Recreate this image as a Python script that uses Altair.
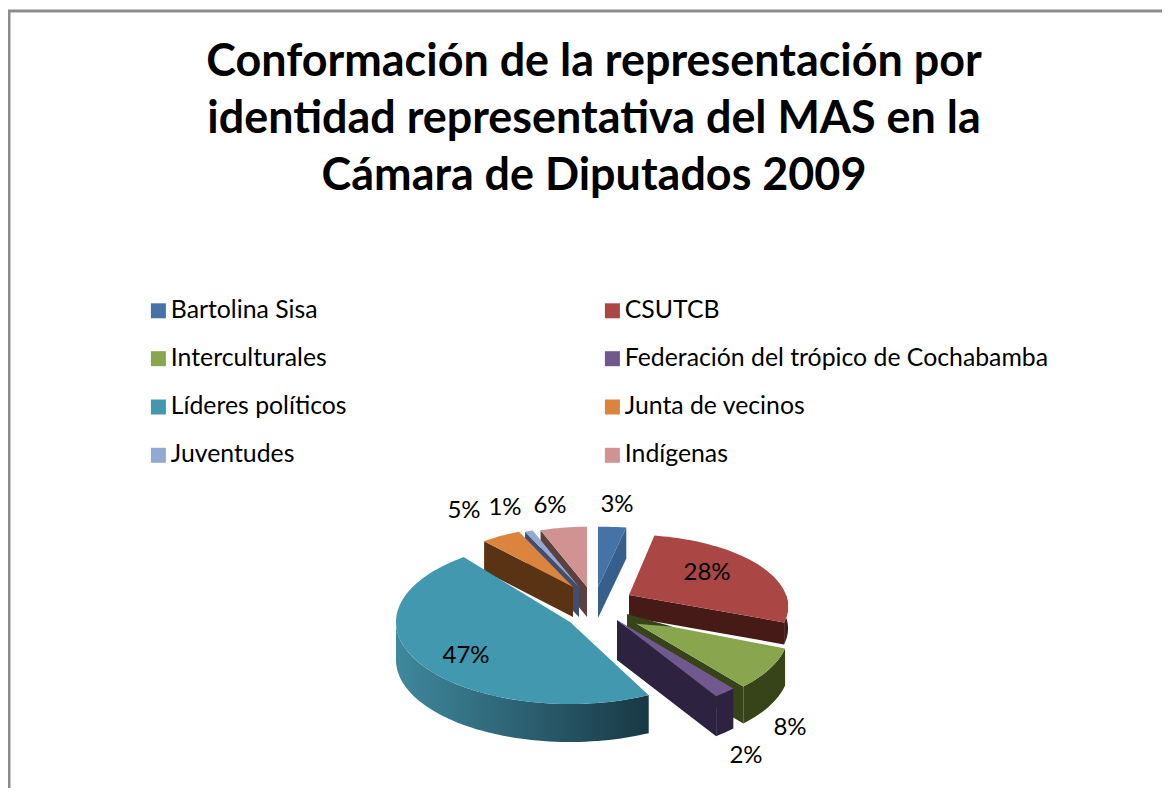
import math
import altair as alt

title_lines = ["Conformación de la representación por",
               "identidad representativa del MAS en la",
               "Cámara de Diputados 2009"]
categories = ["Bartolina Sisa", "CSUTCB", "Interculturales",
              "Federación del trópico de Cochabamba", "Líderes políticos",
              "Junta de vecinos", "Juventudes", "Indígenas"]
shares = [3, 28, 8, 2, 47, 5, 1, 6]
labels = ["3%", "28%", "8%", "2%", "47%", "5%", "1%", "6%"]
top_colors = ["#4572a7", "#aa4643", "#89a54e", "#71588f",
              "#4198af", "#db843d", "#93a9cf", "#d19392"]
wall_colors = ["#375f8c", "#451a17", "#374419", "#2d2340",
               "#2f6d80", "#5a3214", "#3f4e6e", "#5c3f3f"]

# Exploded-pie layout: apex of each slice, in-plane radii, perspective, wall height
CX, CY = 8, 8
apex = [(598, 587), (629, 595), (627, 618), (617, 620),
        (570, 622), (573, 587), (579, 587), (587, 587)]
rx = [175, 157, 160, 160, 174, 145, 145, 145]
ry = [70, 70, 78, 78, 82, 70, 70, 70]
persp = [0.16, 0.16, 0.16, 0.16, 0.0, 0.16, 0.16, 0.16]
turn = [0, 0, 0, 0, 5.5, 0, 0, 0]
depth = [31, 22, 37, 40, 38, 30, 30, 30]
label_off = [(19, -82), (78, -22), (163, 110), (129, 136),
             (-104, 34), (-109, -76), (-74, -79), (-37, -81)]
draw_order = [7, 6, 5, 0, 1, 4, 2, 3]

starts, acc = [], 0
for s in shares:
    starts.append(acc * 3.6)
    acc += s
ends = [a + s * 3.6 for a, s in zip(starts, shares)]


def pt(i, deg):
    t = math.radians(deg + turn[i])
    X, Y = math.sin(t), -math.cos(t)
    k = 1 / (1 - persp[i] * Y)
    return [apex[i][0] + rx[i] * X * k - CX, apex[i][1] + ry[i] * Y * k - CY]


def arc(i, a, b):
    n = max(2, int(abs(b - a) / 2) + 1)
    return [pt(i, a + (b - a) * j / n) for j in range(n + 1)]


def tip(i):
    return [apex[i][0] - CX, apex[i][1] - CY]


def feature(ring, name):
    ring = ring + [ring[0]]
    return {"type": "Feature", "properties": {"name": name},
            "geometry": {"type": "Polygon", "coordinates": [ring]}}


def wall(i, top):
    low = [[x, y + depth[i]] for x, y in top]
    return feature(top + low[::-1], categories[i])


def walls_for(i):
    a, b = starts[i], ends[i]
    if i == 0:
        return [[tip(i), pt(i, b)]]
    if i == 1:
        return [[tip(i), pt(i, b)], arc(i, 90, b)]
    if i in (2, 3):
        return [arc(i, a, b), [tip(i), pt(i, b)]]
    if i == 4:
        return [arc(i, a, 270 - turn[i])]
    return [[tip(i), pt(i, a)]]


def green_wedge():
    # Thin dark strip where the green slice's inner wall shows next to its apex
    t, c = tip(2), pt(2, starts[2])
    far = [t[0] + 0.29 * (c[0] - t[0]), t[1] + 0.29 * (c[1] - t[1])]
    return feature([[t[0], t[1] - 4], far, [t[0], t[1] + 5]], categories[2])


projection = alt.Projection(type="identity", scale=1, translate=[0, 0])


def geo(features):
    return alt.Data(values={"type": "FeatureCollection", "features": features},
                    format=alt.DataFormat(property="features"))


legend = alt.Legend(orient="none", legendX=138, legendY=290, columns=2, title=None,
                    direction="horizontal",
                    symbolType="square", symbolSize=225, symbolStrokeWidth=0,
                    labelFont="Lato", labelFontSize=24.8, labelColor="#000000",
                    labelOffset=0, rowPadding=22.3, columnPadding=253,
                    labelLimit=600, symbolOpacity=1)
color = alt.Color("properties.name:N",
                  scale=alt.Scale(domain=categories, range=top_colors),
                  sort=None, legend=legend)

layers = []
for i in draw_order:
    for w in walls_for(i):
        if i == 4:
            fill = alt.Gradient(gradient="linear", x1=0, x2=1, y1=0, y2=0, stops=[
                alt.GradientStop(color="#3f889d", offset=0),
                alt.GradientStop(color="#2c6172", offset=0.5),
                alt.GradientStop(color="#183844", offset=1)])
        else:
            fill = wall_colors[i]
        layers.append(alt.Chart(geo([wall(i, w)])).mark_geoshape(
            fill=fill, strokeWidth=0).project(**projection.to_dict()))
    ring = [tip(i)] + arc(i, starts[i], ends[i])
    layers.append(alt.Chart(geo([feature(ring, categories[i])])).mark_geoshape(
        strokeWidth=0).encode(color=color).project(**projection.to_dict()))
    if i == 2:
        layers.append(alt.Chart(geo([green_wedge()])).mark_geoshape(
            fill=wall_colors[2], strokeWidth=0).project(**projection.to_dict()))

label_rows = [{"label": labels[i],
               "x": apex[i][0] + label_off[i][0] - CX,
               "y": apex[i][1] + label_off[i][1] - CY} for i in range(len(labels))]
text_layer = alt.Chart(alt.Data(values=label_rows)).mark_text(
    font="Lato", fontSize=24, color="#000000", align="center", baseline="middle"
).encode(x=alt.X("x:Q", scale=None), y=alt.Y("y:Q", scale=None), text="label:N")

border_color = "#8c8c8c"
dummy = alt.Data(values=[{}])
top_rule = alt.Chart(dummy).mark_rule(color=border_color, strokeWidth=3).encode(
    x=alt.value(0), x2=alt.value(1154), y=alt.value(3))
left_rule = alt.Chart(dummy).mark_rule(color=border_color, strokeWidth=3).encode(
    x=alt.value(1), y=alt.value(2), y2=alt.value(780))

chart = alt.layer(top_rule, left_rule, *layers, text_layer).properties(
    width=1154, height=780,
    padding=0,
    autosize=alt.AutoSizeParams(type="none"),
    title=alt.TitleParams(text=title_lines, font="Lato", fontSize=44.9, fontWeight="bold",
                          color="#000000", anchor="middle", lineHeight=57,
                          baseline="top", dx=9, dy=192, offset=0),
).configure_view(stroke=None)

chart.save("out.html", embed_options={"renderer": "svg", "actions": False})
